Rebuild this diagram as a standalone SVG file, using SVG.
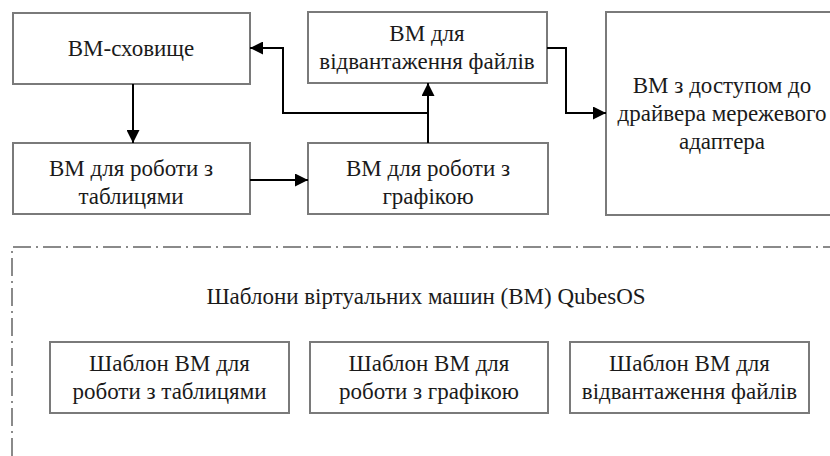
<svg xmlns="http://www.w3.org/2000/svg" width="830" height="456" viewBox="0 0 830 456">
<style>
  .box { fill: #ffffff; stroke: #7a7a7a; stroke-width: 2; }
  .t { font-family: "Liberation Serif", "Times New Roman", serif; font-size: 23px; fill: #1a1a1a; text-anchor: middle; }
  .c { fill: none; stroke: #000; stroke-width: 2; }
  .frame { fill: none; stroke: #8a8a8a; stroke-width: 2; stroke-dasharray: 18 5 2 5; }
</style>
<defs>
  <marker id="ah" viewBox="0 0 10 10" refX="10" refY="5" markerWidth="6.5" markerHeight="6.5" orient="auto" markerUnits="strokeWidth">
    <path d="M0,0 L10,5 L0,10 Z" fill="#000"/>
  </marker>
</defs>
<rect width="830" height="456" fill="#fff"/>
<path class="frame" d="M12,456 V247 H830"/>
<g id="vm-storage">
  <rect class="box" x="13" y="13" width="237" height="71"/>
  <text class="t" x="131" y="56">ВМ-сховище</text>
</g>
<g id="vm-tables">
  <rect class="box" x="13" y="143" width="237" height="71"/>
  <text class="t" x="131" y="176">ВМ для роботи з</text>
  <text class="t" x="131" y="204">таблицями</text>
</g>
<g id="vm-upload">
  <rect class="box" x="308" y="12" width="239" height="71"/>
  <text class="t" x="427" y="41">ВМ для</text>
  <text class="t" x="427" y="69">відвантаження файлів</text>
</g>
<g id="vm-graphics">
  <rect class="box" x="308" y="143" width="240" height="71"/>
  <text class="t" x="428" y="176">ВМ для роботи з</text>
  <text class="t" x="428" y="204">графікою</text>
</g>
<g id="vm-network">
  <rect class="box" x="606" y="12" width="234" height="203"/>
  <text class="t" x="722" y="93">ВМ з доступом до</text>
  <text class="t" x="722" y="121">драйвера мережевого</text>
  <text class="t" x="722" y="149">адаптера</text>
</g>
<g id="templates-title">
  <text class="t" x="426" y="304">Шаблони віртуальних машин (ВМ) QubesOS</text>
</g>
<g id="tpl-tables">
  <rect class="box" x="50" y="342" width="239" height="71"/>
  <text class="t" x="169.5" y="371">Шаблон ВМ для</text>
  <text class="t" x="169.5" y="399">роботи з таблицями</text>
</g>
<g id="tpl-graphics">
  <rect class="box" x="310" y="342" width="238" height="71"/>
  <text class="t" x="429" y="371">Шаблон ВМ для</text>
  <text class="t" x="429" y="399">роботи з графікою</text>
</g>
<g id="tpl-upload">
  <rect class="box" x="570" y="342" width="239" height="71"/>
  <text class="t" x="689.5" y="371">Шаблон ВМ для</text>
  <text class="t" x="689.5" y="399">відвантаження файлів</text>
</g>
<g id="connectors">
  <path class="c" d="M133,84 V143" marker-end="url(#ah)"/>
  <path class="c" d="M250,180 H308" marker-end="url(#ah)"/>
  <path class="c" d="M428,143 V83" marker-end="url(#ah)"/>
  <path class="c" d="M428,113 H283 V48 H250" marker-end="url(#ah)"/>
  <path class="c" d="M547,48 H566 V113 H606" marker-end="url(#ah)"/>
</g>
</svg>
